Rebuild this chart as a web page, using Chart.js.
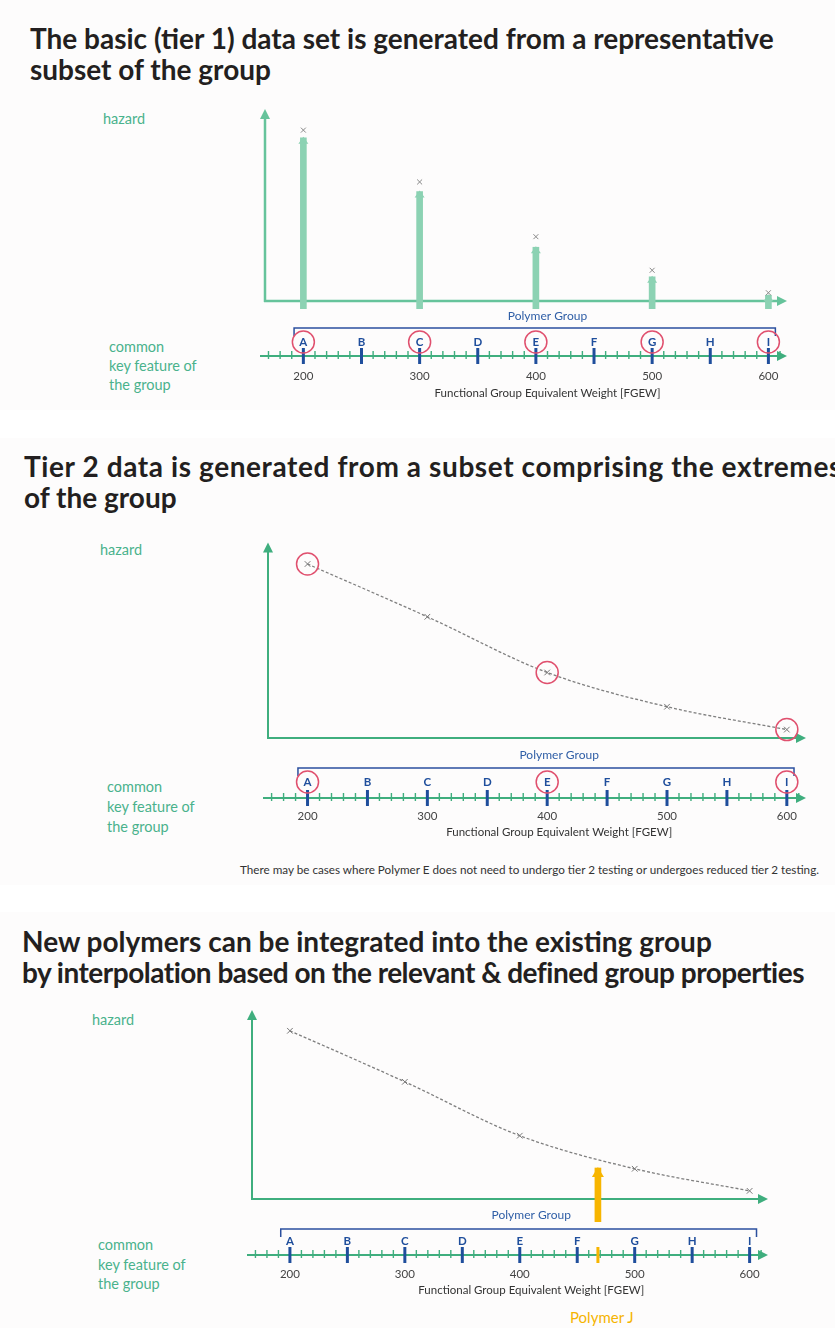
<!DOCTYPE html>
<html>
<head>
<meta charset="utf-8">
<script src="https://cdn.jsdelivr.net/npm/chart.js@4.4.1/dist/chart.umd.min.js"></script>
<style>
body{margin:0;background:#fff;width:835px;height:1328px;position:relative;overflow:hidden;font-family:Lato,sans-serif}
.panel{position:absolute;left:0;width:835px;background:#fdfcfc}
.title{position:absolute;font-weight:bold;font-size:28px;line-height:31px;color:#231f20;white-space:nowrap}
.lbl{position:absolute;color:#4ab28c;font-size:14.5px;white-space:nowrap}
canvas{position:absolute;left:0}
</style>
</head>
<body>
<div class="panel" style="top:0;height:410px"></div>
<div class="panel" style="top:438px;height:447px"></div>
<div class="panel" style="top:912px;height:416px"></div>

<div class="title" style="left:30px;top:23px">The basic (tier 1) data set is generated from a representative<br>subset of the group</div>
<div class="title" style="left:24px;top:451px"><span style="letter-spacing:0.6px">Tier 2 data is generated from a subset comprising the extremes</span><br>of the group</div>
<div class="title" style="left:22px;top:926px">New polymers can be integrated into the existing group<br><span style="letter-spacing:-0.5px">by interpolation based on the relevant &amp; defined group properties</span></div>

<div class="lbl" style="left:103px;top:110px">hazard</div>
<div class="lbl" style="left:109px;top:337px;line-height:19px">common<br>key feature of<br>the group</div>
<div class="lbl" style="left:100px;top:541px">hazard</div>
<div class="lbl" style="left:107px;top:777px;line-height:20px">common<br>key feature of<br>the group</div>
<div class="lbl" style="left:92px;top:1011px">hazard</div>
<div class="lbl" style="left:98px;top:1235px;line-height:19.5px">common<br>key feature of<br>the group</div>

<div style="position:absolute;left:240px;top:862px;font-size:11.7px;color:#333;white-space:nowrap">There may be cases where Polymer E does not need to undergo tier 2 testing or undergoes reduced tier 2 testing.</div>
<div style="position:absolute;left:570px;top:1308px;font-size:15px;color:#f5b400;white-space:nowrap">Polymer J</div>

<canvas id="c1" width="835" height="310" style="top:100px"></canvas>
<canvas id="c2" width="835" height="330" style="top:530px"></canvas>
<canvas id="c3" width="835" height="300" style="top:1000px"></canvas>

<script>
// hazard per tested polymer (same curve in all three panels)
const fgew = [200, 300, 400, 500, 600];
const hazard = [89, 62, 33.5, 16, 4.3];
// tier 1 measured arrows (tips sit just under the crosses)
const tier1Arrows = [85, 57, 28, 12.6, 3];

// polymers of the group along the FGEW ruler
const groupLetters = ['A', 'B', 'C', 'D', 'E', 'F', 'G', 'H', 'I'];
const groupFgew = [200, 250, 300, 350, 400, 450, 500, 550, 600];
const fgewTicks = [200, 300, 400, 500, 600];
const groupSpan = [192, 606];

const tier1Tested = ['A', 'C', 'E', 'G', 'I'];
const tier2Tested = ['A', 'E', 'I'];

// new polymer J placed by interpolation
const polymerJFgew = [468];
const polymerJHazard = [16.4];
const polymerJBase = [-12];

const xMin = 167, xMax = 616;
const GREEN = '#3fae7e', BLUE = '#1f4e9c', RED = '#e0506e', GREY = '#8a8a8a', YELLOW = '#f7b500';

function arrowHead(ctx, x, y, dir, len, half) {
  ctx.beginPath();
  if (dir === 'up') { ctx.moveTo(x, y); ctx.lineTo(x - half, y + len); ctx.lineTo(x + half, y + len); }
  else { ctx.moveTo(x, y); ctx.lineTo(x - len, y - half); ctx.lineTo(x - len, y + half); }
  ctx.closePath();
  ctx.fill();
}

const axesPlugin = {
  id: 'axes',
  beforeDatasetsDraw(chart, args, o) {
    const { ctx, chartArea: a } = chart;
    ctx.save();
    ctx.strokeStyle = o.color; ctx.fillStyle = o.color; ctx.lineWidth = o.width;
    ctx.beginPath();
    ctx.moveTo(a.left, a.bottom + 1); ctx.lineTo(a.left, a.top + 8);
    ctx.moveTo(a.left - 1, a.bottom); ctx.lineTo(a.right - 8, a.bottom);
    ctx.stroke();
    arrowHead(ctx, a.left, a.top, 'up', 10, 5);
    arrowHead(ctx, a.right, a.bottom, 'right', 10, 5);
    ctx.restore();
  },
  afterDatasetsDraw(chart) {
    const { ctx } = chart;
    chart.data.datasets.forEach((ds, i) => {
      if (!ds.arrowTip) return;
      ctx.save();
      ctx.fillStyle = ds.backgroundColor;
      chart.getDatasetMeta(i).data.forEach(el => {
        const top = Math.min(el.y, el.base);
        arrowHead(ctx, el.x, top - 1, 'up', ds.arrowTip[0], ds.arrowTip[1]);
      });
      ctx.restore();
    });
  }
};

const rulerPlugin = {
  id: 'ruler',
  afterDraw(chart, args, o) {
    const { ctx, chartArea: a, scales: { x } } = chart;
    const b = a.bottom, g = o.gap;
    const r = b + g.ruler;
    ctx.save();
    ctx.textAlign = 'center'; ctx.textBaseline = 'middle';

    // "Polymer Group" bracket
    const bx0 = x.getPixelForValue(groupSpan[0]), bx1 = x.getPixelForValue(groupSpan[1]);
    ctx.fillStyle = '#2f5ea6'; ctx.font = '12px Lato';
    ctx.fillText('Polymer Group', x.getPixelForValue(410), b + g.label);
    ctx.strokeStyle = '#2b4f9e'; ctx.lineWidth = 1.5;
    ctx.beginPath();
    ctx.moveTo(bx0, b + g.bracket + 8); ctx.lineTo(bx0, b + g.bracket);
    ctx.lineTo(bx1, b + g.bracket); ctx.lineTo(bx1, b + g.bracket + 8);
    ctx.stroke();

    // ruler line + minor ticks
    ctx.strokeStyle = GREEN; ctx.fillStyle = GREEN; ctx.lineWidth = 2;
    ctx.beginPath(); ctx.moveTo(a.left - 5, r); ctx.lineTo(a.right - 8, r); ctx.stroke();
    arrowHead(ctx, a.right, r, 'right', 10, 5);
    ctx.lineWidth = 1.4;
    ctx.beginPath();
    for (let v = 170; v <= 610; v += 10) {
      if (v % 50 === 0 && v >= 200 && v <= 600) continue;
      const px = x.getPixelForValue(v);
      ctx.moveTo(px, r - 5); ctx.lineTo(px, r + 3);
    }
    ctx.stroke();

    // polymer majors, letters and circles
    groupFgew.forEach((v, i) => {
      const px = x.getPixelForValue(v);
      ctx.strokeStyle = BLUE; ctx.lineWidth = 3;
      ctx.beginPath(); ctx.moveTo(px, r - 8); ctx.lineTo(px, r + 8); ctx.stroke();
      ctx.fillStyle = BLUE; ctx.font = 'bold 11.5px Lato';
      ctx.fillText(groupLetters[i], px, r - g.letters);
      if (o.circled.includes(groupLetters[i])) {
        ctx.strokeStyle = RED; ctx.lineWidth = 1.5;
        ctx.beginPath(); ctx.arc(px, r - g.letters, 11, 0, Math.PI * 2); ctx.stroke();
      }
    });
    (o.extra || []).forEach(v => {
      const px = x.getPixelForValue(v);
      ctx.strokeStyle = YELLOW; ctx.lineWidth = 3;
      ctx.beginPath(); ctx.moveTo(px, r - 8); ctx.lineTo(px, r + 8); ctx.stroke();
    });

    // numeric ticks and title
    ctx.fillStyle = '#444'; ctx.font = '11.5px Lato';
    fgewTicks.forEach(v => ctx.fillText(String(v), x.getPixelForValue(v), b + g.numbers));
    ctx.fillStyle = '#333';
    ctx.fillText('Functional Group Equivalent Weight [FGEW]', x.getPixelForValue(410), b + g.title);
    ctx.restore();
  }
};

function pts(xs, ys) { return xs.map((v, i) => ({ x: v, y: ys[i] })); }
function tested(letters) {
  return letters.map(l => groupFgew[groupLetters.indexOf(l)])
    .map(v => ({ x: v, y: hazard[fgew.indexOf(v)] }));
}

function makeChart(id, padding, datasets, axis, ruler) {
  return new Chart(document.getElementById(id), {
    type: 'scatter',
    data: { datasets },
    options: {
      responsive: false,
      animation: false,
      events: [],
      layout: { padding },
      scales: {
        x: { type: 'linear', min: xMin, max: xMax, offset: false, display: false },
        y: { min: 0, max: 100, display: false }
      },
      plugins: { legend: { display: false }, tooltip: { enabled: false }, axes: axis, ruler }
    },
    plugins: [axesPlugin, rulerPlugin]
  });
}

const curve = {
  type: 'line',
  data: pts(fgew, hazard),
  borderColor: '#7f7f7f', borderWidth: 1.3, borderDash: [3, 2],
  cubicInterpolationMode: 'monotone',
  pointStyle: 'crossRot', pointRadius: 4, pointBorderColor: '#777', pointBorderWidth: 1,
  clip: false
};

// panel 1: tier 1
makeChart('c1', { left: 265, right: 48, top: 9, bottom: 109 }, [
  { type: 'scatter', data: pts(fgew, hazard), pointStyle: 'crossRot', pointRadius: 3.5,
    borderColor: '#888', borderWidth: 1, clip: false },
  { type: 'bar', data: fgew.map((v, i) => ({ x: v, y: [-4, tier1Arrows[i]] })),
    backgroundColor: '#8cd2b3', barThickness: 6, arrowTip: [7, 5], clip: false }
], { color: '#66c39b', width: 2.5 },
{ gap: { label: 15, bracket: 27, letters: 14, ruler: 55, numbers: 75, title: 92 }, circled: tier1Tested });

// panel 2: tier 2
makeChart('c2', { left: 268, right: 29, top: 12, bottom: 122 }, [
  { type: 'scatter', data: tested(tier2Tested), pointStyle: 'circle', pointRadius: 11,
    borderColor: RED, borderWidth: 1.5, backgroundColor: 'rgba(0,0,0,0)', clip: false },
  Object.assign({}, curve)
], { color: GREEN, width: 2 },
{ gap: { label: 17, bracket: 30, letters: 16, ruler: 60, numbers: 78, title: 94 }, circled: tier2Tested });

// panel 3: interpolation of polymer J
makeChart('c3', { left: 252, right: 67, top: 10, bottom: 101 }, [
  Object.assign({}, curve),
  { type: 'bar', data: polymerJFgew.map((v, i) => ({ x: v, y: [polymerJBase[i], polymerJHazard[i]] })),
    backgroundColor: YELLOW, barThickness: 6, arrowTip: [10, 6], clip: false }
], { color: GREEN, width: 2 },
{ gap: { label: 16, bracket: 30, letters: 14, ruler: 56, numbers: 75, title: 91 }, circled: [], extra: polymerJFgew });
</script>
</body>
</html>
